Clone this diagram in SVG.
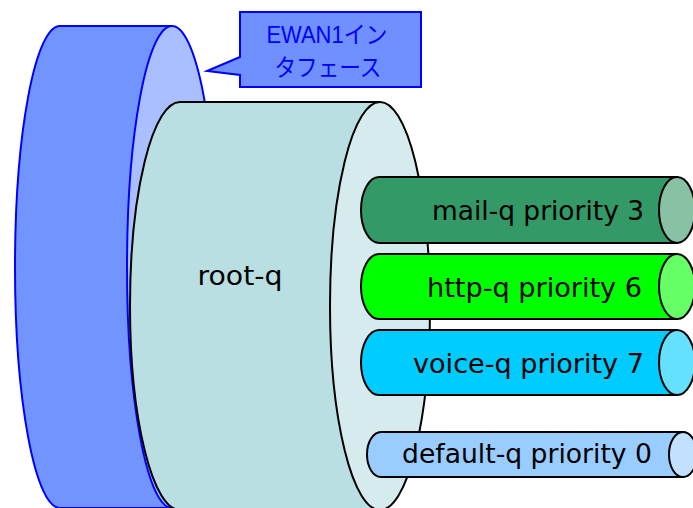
<svg xmlns="http://www.w3.org/2000/svg" width="693" height="508" viewBox="0 0 693 508">
  <style>
    .blue { stroke: #0000ff; stroke-width: 2; }
    .blk { stroke: #000000; stroke-width: 2; }
    .lbl { font-family: "DejaVu Sans", "Noto Sans CJK JP", sans-serif; font-size: 26px; fill: #000000; }
    .jp { font-family: "Liberation Sans", "Noto Sans CJK JP", sans-serif; font-size: 24px; fill: #0000ff; text-anchor: middle; }
  </style>
  <rect width="693" height="508" fill="#ffffff"/>

  <!-- interface cylinder -->
  <g id="ewan1">
    <path class="blue" d="M172,26 H60 A45,241 0 0 0 60,508 H172 Z" fill="#7294ff"/>
    <ellipse class="blue" cx="172" cy="267" rx="45" ry="241" fill="#a9bfff"/>
  </g>

  <!-- callout label -->
  <g id="callout">
    <path class="blue" d="M240,12 H421 V87 H240 V75 L207,71 L240,57 Z" fill="#7090ff"/>
    <text class="jp" x="327" y="43" textLength="121" lengthAdjust="spacingAndGlyphs">EWAN1イン</text>
    <text class="jp" x="328" y="76" textLength="107" lengthAdjust="spacingAndGlyphs">タフェース</text>
  </g>

  <!-- root queue -->
  <g id="root-q">
    <path class="blk" d="M380,102 H180 A50,204 0 0 0 180,510 H380 Z" fill="#badfe2"/>
    <ellipse class="blk" cx="380" cy="306" rx="50" ry="204" fill="#d6ebee"/>
    <text class="lbl" x="240" y="285" text-anchor="middle" font-size="25" textLength="85" lengthAdjust="spacingAndGlyphs">root-q</text>
  </g>

  <!-- child queues -->
  <g id="mail-q">
    <path class="blk" d="M677,177 H379 A18,33 0 0 0 379,243 H677 Z" fill="#339966"/>
    <ellipse class="blk" cx="677" cy="210" rx="18" ry="33" fill="#88c1a4"/>
    <text class="lbl" x="644" y="220" text-anchor="end" textLength="212" lengthAdjust="spacingAndGlyphs">mail-q priority 3</text>
  </g>

  <g id="http-q">
    <path class="blk" d="M677,254 H379 A18,32.5 0 0 0 379,319 H677 Z" fill="#00ff00"/>
    <ellipse class="blk" cx="677" cy="286.5" rx="18" ry="32.5" fill="#66ff66"/>
    <text class="lbl" x="642" y="297" text-anchor="end" textLength="215" lengthAdjust="spacingAndGlyphs">http-q priority 6</text>
  </g>

  <g id="voice-q">
    <path class="blk" d="M677,330 H379 A18,32.5 0 0 0 379,395 H677 Z" fill="#00ccff"/>
    <ellipse class="blk" cx="677" cy="362.5" rx="18" ry="32.5" fill="#66e0ff"/>
    <text class="lbl" x="644" y="373" text-anchor="end" textLength="231" lengthAdjust="spacingAndGlyphs">voice-q priority 7</text>
  </g>

  <g id="default-q">
    <path class="blk" d="M683,432 H381 A14,22.5 0 0 0 381,477 H683 Z" fill="#99ccff"/>
    <ellipse class="blk" cx="683" cy="454.5" rx="14" ry="22.5" fill="#c2e0ff"/>
    <text class="lbl" x="652" y="463" text-anchor="end" textLength="250" lengthAdjust="spacingAndGlyphs">default-q priority 0</text>
  </g>

  <g id="connectors"/>
</svg>
